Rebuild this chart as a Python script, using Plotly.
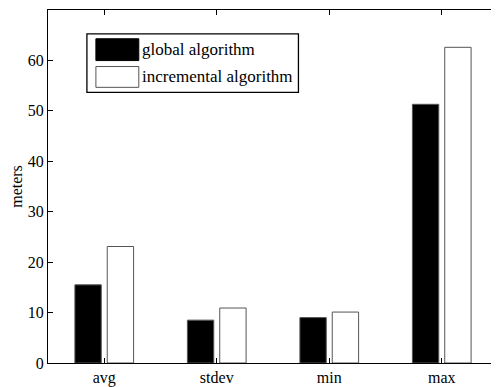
import plotly.graph_objects as go

categories = ["avg", "stdev", "min", "max"]
global_vals = [15.5, 8.5, 9.0, 51.3]
incremental_vals = [23.1, 10.9, 10.1, 62.6]
series_names = ["global algorithm", "incremental algorithm"]
y_ticks = [0, 10, 20, 30, 40, 50, 60, 70]

FONT = "Liberation Serif"
TICK_SIZE = 16
LEG_SIZE = 17
x_idx = [1, 2, 3, 4]

# page body has an 8px margin; the figure is sized so the plot lands where the reference has it
OFF = 8
L, T, R, B = 48 - OFF, 10 - OFF, 499, 366 - OFF
PW = R - 48
PH = 366 - 10

def px(x):  # window x -> paper
    return (x - 48) / PW

def py(y):  # window y -> paper
    return (366 - y) / PH

fig = go.Figure()
fig.add_trace(go.Bar(x=x_idx, y=global_vals, name=series_names[0],
                     marker=dict(color="black", line=dict(color="#555", width=1))))
fig.add_trace(go.Bar(x=x_idx, y=incremental_vals, name=series_names[1],
                     marker=dict(color="white", line=dict(color="#555", width=1))))

shapes = [
    dict(type="rect", xref="paper", yref="paper", x0=px(87), x1=px(299),
         y0=py(93), y1=py(34), line=dict(color="black", width=1.3), fillcolor="white", layer="above"),
    dict(type="rect", xref="paper", yref="paper", x0=px(96), x1=px(139),
         y0=py(61), y1=py(39), line=dict(color="black", width=1), fillcolor="black", layer="above"),
    dict(type="rect", xref="paper", yref="paper", x0=px(96), x1=px(139),
         y0=py(88), y1=py(67), line=dict(color="#555", width=1), fillcolor="white", layer="above"),
]
annotations = [
    dict(xref="paper", yref="paper", x=px(140.5), y=py(50), text=series_names[0],
         showarrow=False, xanchor="left", yanchor="middle",
         font=dict(family=FONT, size=LEG_SIZE, color="black")),
    dict(xref="paper", yref="paper", x=px(140.5), y=py(77), text=series_names[1],
         showarrow=False, xanchor="left", yanchor="middle",
         font=dict(family=FONT, size=LEG_SIZE, color="black")),
]

fig.update_layout(
    width=499 - OFF, height=387 - OFF,
    margin=dict(l=L, r=0, t=T, b=(387 - OFF) - B),
    paper_bgcolor="white", plot_bgcolor="white",
    barmode="group", bargap=0.425, bargroupgap=0.185,
    showlegend=False,
    font=dict(family=FONT, size=TICK_SIZE, color="black"),
    shapes=shapes, annotations=annotations,
    xaxis=dict(range=[0.5, 4.5], tickvals=x_idx, ticktext=categories,
               showline=True, linecolor="black", linewidth=1.3, mirror="allticks",
               ticks="inside", ticklen=5, tickcolor="black", showgrid=False, zeroline=False,
               tickfont=dict(family=FONT, size=TICK_SIZE, color="black")),
    yaxis=dict(range=[0, 70], tickvals=y_ticks,
               showline=True, linecolor="black", linewidth=1.3, mirror="allticks",
               ticks="inside", ticklen=5, tickcolor="black", showgrid=False, zeroline=False,
               title=dict(text="meters", font=dict(family=FONT, size=16, color="black"), standoff=6),
               tickfont=dict(family=FONT, size=TICK_SIZE, color="black")),
)

fig.write_html("out.html")
